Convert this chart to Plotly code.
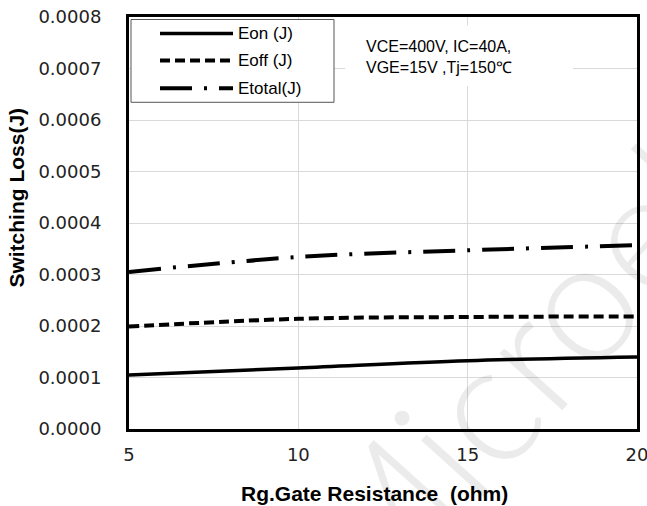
import plotly.graph_objects as go

# ---- data ----
rg = [5, 10, 15, 20]
eon = [0.000105, 0.0001186, 0.0001327, 0.00014]
eoff = [0.000199, 0.000214, 0.0002175, 0.0002186]
etotal = [0.000305, 0.000334, 0.000347, 0.000357]
series_names = ["Eon (J)", "Eoff (J)", "Etotal(J)"]
x_ticks = [5, 10, 15, 20]
y_ticks = [0.0, 0.0001, 0.0002, 0.0003, 0.0004, 0.0005, 0.0006, 0.0007, 0.0008]
cond_text = "VCE=400V, IC=40A,<br>VGE=15V ,Tj=150\u2103"
x_title = "Rg.Gate Resistance  (ohm)"
y_title = "Switching Loss(J)"

W, H = 647, 506
# plot area in window pixels: x 129..637, y 16.5..429.5
L, R, T, B = 129, 647 - 637, 16.5, 506 - 429.5
PW, PH = W - L - R, H - T - B


def px(x):  # window pixel -> paper
    return (x - L) / PW


def py(y):
    return (H - B - y) / PH


dash_eon = "solid"
dash_eoff = "10px,5px"
dash_etot = "32px,12px,3px,12px"

fig = go.Figure()
fig.add_trace(go.Scatter(x=rg, y=eon, mode="lines", name=series_names[0],
                         line=dict(color="black", width=3.5, dash=dash_eon, shape="spline"),
                         showlegend=False, hoverinfo="skip"))
fig.add_trace(go.Scatter(x=rg, y=eoff, mode="lines", name=series_names[1],
                         line=dict(color="black", width=4, dash=dash_eoff, shape="spline"),
                         showlegend=False, hoverinfo="skip"))
fig.add_trace(go.Scatter(x=rg, y=etotal, mode="lines", name=series_names[2],
                         line=dict(color="black", width=4, dash=dash_etot, shape="spline"),
                         showlegend=False, hoverinfo="skip"))

shapes = []
annotations = []

# custom legend box
shapes.append(dict(type="rect", xref="paper", yref="paper",
                   x0=px(131), x1=px(334), y0=py(102), y1=py(19),
                   fillcolor="white", line=dict(color="#555555", width=1), layer="above"))
leg_y = [33, 60, 88]
leg_dash = [dash_eon, dash_eoff, dash_etot]
leg_w = [3.5, 4, 4]
for name, yy, d, w in zip(series_names, leg_y, leg_dash, leg_w):
    shapes.append(dict(type="line", xref="paper", yref="paper",
                       x0=px(160), x1=px(233), y0=py(yy), y1=py(yy),
                       line=dict(color="black", width=w, dash=d), layer="above"))
    annotations.append(dict(xref="paper", yref="paper", x=px(236), y=py(yy),
                            xanchor="left", yanchor="middle", showarrow=False,
                            text=name, font=dict(family="Liberation Sans, Arial", size=17, color="black")))

# conditions box
shapes.append(dict(type="rect", xref="paper", yref="paper",
                   x0=px(345), x1=px(573), y0=py(86), y1=py(25),
                   fillcolor="white", line=dict(width=0), layer="above"))
annotations.append(dict(xref="paper", yref="paper", x=px(364), y=py(57),
                        xanchor="left", yanchor="middle", align="left", showarrow=False,
                        text=cond_text,
                        font=dict(family="Liberation Sans, Arial", size=16, color="black")))

# axis titles
annotations.append(dict(xref="paper", yref="paper", x=px(374), y=py(494.5),
                        xanchor="center", yanchor="middle", showarrow=False, text=x_title,
                        font=dict(family="Liberation Sans, Arial", size=21, color="black", weight="bold")))
annotations.append(dict(xref="paper", yref="paper", x=px(17), y=py(197.5),
                        xanchor="center", yanchor="middle", showarrow=False, text=y_title,
                        textangle=-90,
                        font=dict(family="Liberation Sans, Arial", size=21, color="black", weight="bold")))

# watermark
annotations.append(dict(xref="paper", yref="paper", x=px(505), y=py(375),
                        xanchor="center", yanchor="middle", showarrow=False, text="Microel",
                        textangle=-48,
                        font=dict(family="Lato, Roboto", size=170, color="rgba(0,0,0,0.08)", weight=300)))

fig.update_layout(
    template="none",
    width=W, height=H,
    margin=dict(l=L, r=R, t=T, b=B, pad=0, autoexpand=False),
    paper_bgcolor="white", plot_bgcolor="white",
    shapes=shapes, annotations=annotations,
    showlegend=False,
)
fig.update_xaxes(range=[5, 20], tickvals=x_ticks, ticktext=[str(v) for v in x_ticks],
                 automargin=False, ticklabeloverflow="allow",
                 showgrid=True, gridcolor="#d9d9d9", gridwidth=1,
                 showline=True, linecolor="black", linewidth=3, mirror=True,
                 ticks="", ticklabelstandoff=7, zeroline=False,
                 tickfont=dict(family="DejaVu Sans, Verdana", size=18, color="#222222"))
fig.update_yaxes(range=[0, 0.0008], tickvals=y_ticks, tickformat=".4f",
                 automargin=False, ticklabeloverflow="allow",
                 showgrid=True, gridcolor="#d9d9d9", gridwidth=1,
                 showline=True, linecolor="black", linewidth=3, mirror=True,
                 ticks="", ticklabelstandoff=21, zeroline=False,
                 tickfont=dict(family="DejaVu Sans, Verdana", size=18, color="#222222"))

fig.write_html("out.html", config={"displayModeBar": False, "staticPlot": True},
               post_script="document.body.style.margin='0px';document.body.style.overflow='hidden';")
